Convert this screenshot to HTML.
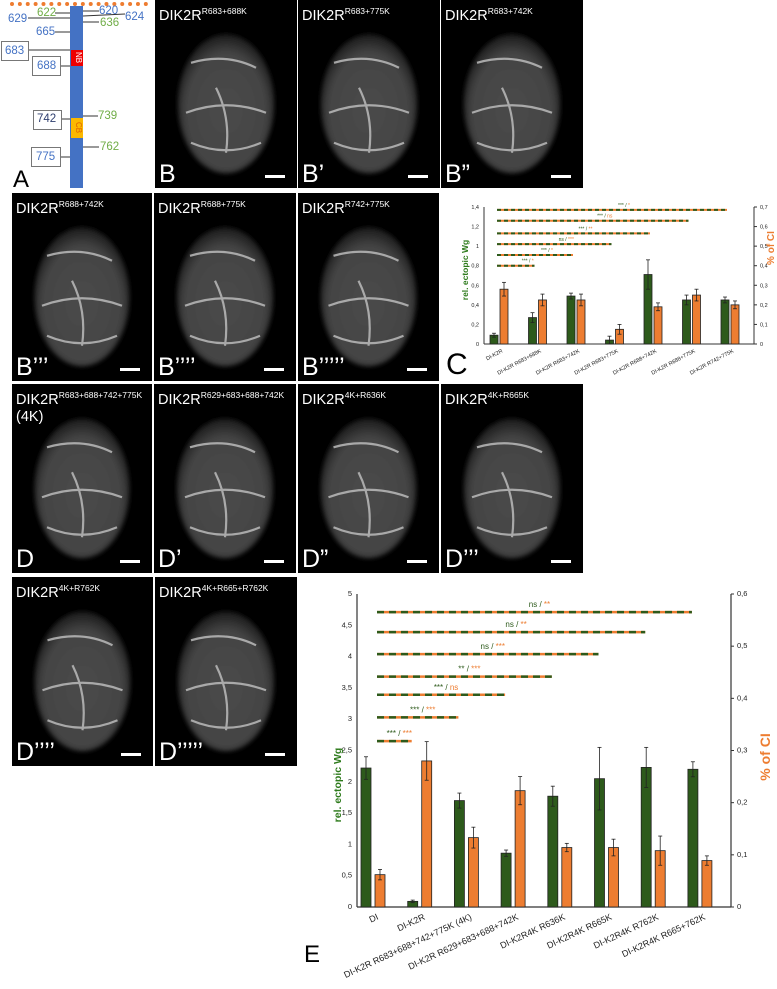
<!DOCTYPE html>
<html><head><meta charset="utf-8"><style>
body{margin:0;width:777px;height:989px;background:#fff;position:relative;overflow:hidden;font-family:"Liberation Sans",sans-serif}
.p{position:absolute;background:#000;overflow:hidden}
.p .t{position:absolute;left:4px;top:3px;color:#fff;font-size:14.5px;white-space:nowrap;line-height:17px}
.p .t sup{font-size:8.5px;vertical-align:6px}
.p .l{position:absolute;left:4px;bottom:0px;color:#fff;font-size:25px;line-height:28px}
.p .s{position:absolute;right:12px;bottom:10px;width:20px;height:3px;background:#fff}
.p svg{position:absolute;left:0;top:0}
.n{position:absolute;font-size:11.5px;line-height:12px}
.bx{position:absolute;border:1px solid #777;background:#fff}
</style></head><body>
<div style="position:absolute;left:0;top:0;width:152px;height:190px">
<div style="position:absolute;left:10px;top:2px;width:138px;border-top:4px dotted #ee7c30"></div>
<div style="position:absolute;left:70px;top:6px;width:13px;height:182px;background:#4472c4"></div>
<div style="position:absolute;left:71px;top:50px;width:12px;height:16px;background:#e00;color:#fff;font-size:8px;writing-mode:vertical-rl;text-align:center">NB</div>
<div style="position:absolute;left:71px;top:118px;width:12px;height:20px;background:#fbb800;color:#e06000;font-size:8px;writing-mode:vertical-rl;text-align:center">CB</div>
<svg width="152" height="190" style="position:absolute;left:0;top:0"><g stroke="#333" stroke-width="1">
<line x1="55" y1="13" x2="70" y2="13"/><line x1="28" y1="18" x2="70" y2="18"/><line x1="55" y1="32" x2="70" y2="32"/><line x1="28" y1="50" x2="70" y2="50"/><line x1="60" y1="66" x2="70" y2="66"/><line x1="61" y1="119" x2="70" y2="119"/><line x1="60" y1="157" x2="70" y2="157"/>
<line x1="83" y1="11" x2="99" y2="11"/><line x1="83" y1="16" x2="125" y2="14"/><line x1="83" y1="22" x2="99" y2="22"/><line x1="83" y1="116" x2="98" y2="116"/><line x1="83" y1="147" x2="99" y2="147"/></g></svg>
<div class="n" style="left:37px;top:7px;color:#70ad47">622</div>
<div class="n" style="left:99px;top:5px;color:#4472c4">620</div>
<div class="n" style="left:8px;top:13px;color:#4472c4">629</div>
<div class="n" style="left:125px;top:11px;color:#4472c4">624</div>
<div class="n" style="left:100px;top:17px;color:#70ad47">636</div>
<div class="n" style="left:36px;top:26px;color:#4472c4">665</div>
<div class="bx" style="left:1px;top:41px;width:26px;height:18px"></div><div class="n" style="left:5px;top:45px;color:#4472c4">683</div>
<div class="bx" style="left:32px;top:56px;width:27px;height:18px"></div><div class="n" style="left:37px;top:60px;color:#4472c4">688</div>
<div class="bx" style="left:33px;top:110px;width:27px;height:18px"></div><div class="n" style="left:37px;top:113px;color:#2f3f6f">742</div>
<div class="n" style="left:98px;top:110px;color:#70ad47">739</div>
<div class="bx" style="left:31px;top:147px;width:28px;height:18px"></div><div class="n" style="left:36px;top:151px;color:#4472c4">775</div>
<div class="n" style="left:100px;top:141px;color:#70ad47">762</div>
<div style="position:absolute;left:13px;top:166px;font-size:24px">A</div>
</div>
<div id="panels"></div>
<svg id="chartC" width="777" height="989" style="position:absolute;left:0;top:0;pointer-events:none"></svg>
<script>
const panelNames=['B','B’','B”','B’’’','B’’’’','B’’’’’','D','D’','D”','D’’’','D’’’’','D’’’’’'];
const panelTitles=[['DIK2R','R683+688K'],['DIK2R','R683+775K'],['DIK2R','R683+742K'],['DIK2R','R688+742K'],['DIK2R','R688+775K'],['DIK2R','R742+775K'],['DIK2R','R683+688+742+775K'],['DIK2R','R629+683+688+742K'],['DIK2R','4K+R636K'],['DIK2R','4K+R665K'],['DIK2R','4K+R762K'],['DIK2R','4K+R665+R762K']];
const boxes=[[155,0,142,188],[298,0,142,188],[441,0,142,188],[12,193,140,188],[154,193,142,188],[298,193,141,188],[12,384,140,189],[154,384,142,189],[298,384,141,189],[441,384,142,189],[12,577,141,189],[155,577,142,189]];
const cont=document.getElementById('panels');
boxes.forEach((b,i)=>{
 const d=document.createElement('div');d.className='p';
 
 
 d.style.cssText=`left:${b[0]}px;top:${b[1]}px;width:${b[2]}px;height:${b[3]}px`;
 const w=b[2],h=b[3];
 const cx=w*0.5,cy=h*0.52;
 d.innerHTML=`<svg width="${w}" height="${h}"><defs><radialGradient id="g${i}" cx="50%" cy="55%" r="55%"><stop offset="0" stop-color="#4a4a4a"/><stop offset="0.75" stop-color="#444"/><stop offset="1" stop-color="#1a1a1a"/></radialGradient><filter id="f${i}"><feGaussianBlur stdDeviation="2"/></filter></defs>
 <ellipse cx="${cx}" cy="${cy+6}" rx="${w*0.34}" ry="${h*0.37}" fill="url(#g${i})" filter="url(#f${i})"/>
 <g fill="none" stroke="#bbb" stroke-width="2.2" opacity="0.85"><path d="M${cx-40} ${cy+15} Q${cx} ${cy} ${cx+40} ${cy+15}"/><path d="M${cx-35} ${cy+45} Q${cx} ${cy+60} ${cx+35} ${cy+45}"/><path d="M${cx-10} ${cy-10} Q${cx+5} ${cy+20} ${cx} ${cy+55}"/><path d="M${cx-35} ${cy-35} Q${cx} ${cy-45} ${cx+30} ${cy-30}"/></g></svg>
 <div class="t">${panelTitles[i][0]}<sup>${panelTitles[i][1]}</sup>${i==6?'<br>(4K)':''}</div><div class="l">${panelNames[i]}</div><div class="s"></div>`;
 cont.appendChild(d);
});

/* Chart C data */
const cCats=['DI-K2R','DI-K2R R683+688K','DI-K2R R683+742K','DI-K2R R683+775K','DI-K2R R688+742K','DI-K2R R688+775K','DI-K2R R742+775K'];
const cGreen=[0.09,0.27,0.49,0.04,0.71,0.45,0.45];
const cGreenErr=[0.02,0.05,0.03,0.04,0.15,0.05,0.03];
const cOrange=[0.28,0.225,0.225,0.075,0.19,0.25,0.20];
const cOrangeErr=[0.035,0.03,0.03,0.025,0.02,0.03,0.02];
const cLeftTicks=[0,0.2,0.4,0.6,0.8,1,1.2,1.4];
const cRightTicks=[0,0.1,0.2,0.3,0.4,0.5,0.6,0.7];
const cSigY=[0.80,0.91,1.02,1.13,1.26,1.37];
const cSigEnd=[1,2,3,4,5,6];
const cSigG=['***','***','ns','***','***','***'];
const cSigO=['*','*','***','**','ns','*'];

/* Chart E data */
const eCats=['DI','DI-K2R','DI-K2R R683+688+742+775K (4K)','DI-K2R R629+683+688+742K','DI-K2R4K R636K','DI-K2R4K R665K','DI-K2R4K R762K','DI-K2R4K R665+762K'];
const eGreen=[2.22,0.09,1.70,0.86,1.77,2.05,2.23,2.20];
const eGreenErr=[0.18,0.02,0.12,0.05,0.16,0.50,0.32,0.12];
const eOrange=[0.062,0.28,0.133,0.223,0.114,0.114,0.108,0.089];
const eOrangeErr=[0.01,0.037,0.02,0.027,0.008,0.016,0.028,0.009];
const eLeftTicks=[0,0.5,1,1.5,2,2.5,3,3.5,4,4.5,5];
const eRightTicks=[0,0.1,0.2,0.3,0.4,0.5,0.6];
const eSigY=[2.65,3.03,3.39,3.68,4.04,4.39,4.71];
const eSigEnd=[1,2,3,4,5,6,7];
const eSigG=['***','***','***','**','ns','ns','ns'];
const eSigO=['***','***','ns','***','***','**','**'];

const NS='http://www.w3.org/2000/svg';
const svg=document.getElementById('chartC');
function mk(tag,attrs,parent){const e=document.createElementNS(NS,tag);for(const k in attrs)e.setAttribute(k,attrs[k]);(parent||svg).appendChild(e);return e;}

function drawChart(o){
 const g=mk('g',{});
 
 
 const yL=v=>o.y0-(v/o.lmax)*(o.y0-o.y1);
 const yR=v=>o.y0-(v/o.rmax)*(o.y0-o.y1);
 const xG=i=>o.gx0+i*o.gstep;
 const al=mk('line',{x1:o.xl,y1:o.y1,x2:o.xl,y2:o.y0,stroke:'#333','stroke-width':o.aw},g);
 
 const ar=mk('line',{x1:o.xr,y1:o.y1,x2:o.xr,y2:o.y0,stroke:'#333','stroke-width':o.aw},g);
 
 const ax=mk('line',{x1:o.xl,y1:o.y0,x2:o.xr,y2:o.y0,stroke:'#333','stroke-width':o.aw},g);
 
 o.lt.forEach(v=>{const t=mk('text',{x:o.xl-5,y:yL(v)+2,'font-size':o.fs,'text-anchor':'end',fill:'#222'},g);t.textContent=String(v).replace('.',',');
  });
 o.rt.forEach(v=>{mk('line',{x1:o.xr,y1:yR(v),x2:o.xr+3,y2:yR(v),stroke:'#333'},g);const t=mk('text',{x:o.xr+6,y:yR(v)+2,'font-size':o.fs,fill:'#222'},g);t.textContent=String(v).replace('.',',');
  });
 o.cats.forEach((c,i)=>{
  const x=xG(i);
  const gb=mk('rect',{x:x-o.bw-o.gap/2,y:yL(o.green[i]),width:o.bw,height:o.y0-yL(o.green[i]),fill:'#2d5a1b',stroke:'#222','stroke-width':0.8},g);
  
  const ob=mk('rect',{x:x+o.gap/2,y:yR(o.orange[i]),width:o.bw,height:o.y0-yR(o.orange[i]),fill:'#ed7d31',stroke:'#222','stroke-width':0.8},g);
  
  const gx=x-o.bw/2-o.gap/2,ox=x+o.bw/2+o.gap/2;
  [[gx,yL(o.green[i]-o.gErr[i]),yL(o.green[i]+o.gErr[i])],[ox,yR(o.orange[i]-o.oErr[i]),yR(o.orange[i]+o.oErr[i])]].forEach(e=>{
   mk('line',{x1:e[0],y1:e[1],x2:e[0],y2:e[2],stroke:'#222','stroke-width':0.8},g);
   mk('line',{x1:e[0]-2,y1:e[1],x2:e[0]+2,y2:e[1],stroke:'#222','stroke-width':0.8},g);
   mk('line',{x1:e[0]-2,y1:e[2],x2:e[0]+2,y2:e[2],stroke:'#222','stroke-width':0.8},g);});
  const t=mk('text',{x:x+o.lx,y:o.y0+o.ly,'font-size':o.cfs,'text-anchor':'end',fill:'#222',transform:`rotate(${o.rot} ${x+o.lx} ${o.y0+o.ly})`},g);t.textContent=c;
  
 });
 o.sigY.forEach((v,k)=>{
  const x2=xG(o.sigEnd[k])+o.sigOff;const y=yL(v);
  const l1=mk('line',{x1:o.sx,y1:y,x2:x2,y2:y,stroke:'#ed7d31','stroke-width':o.sw},g);
  
  mk('line',{x1:o.sx,y1:y,x2:x2,y2:y,stroke:'#2d5a1b','stroke-width':o.sw,'stroke-dasharray':o.dash},g);
  const tx=(o.sx+x2)/2+o.sigShift;
  const t=mk('text',{x:tx,y:y-o.sigDy,'font-size':o.sfs,'text-anchor':'middle'},g);
  
  const a=mk('tspan',{fill:'#2d5a1b'},t);a.textContent=o.sigG[k]+' / ';
  const b=mk('tspan',{fill:'#ed7d31'},t);b.textContent=o.sigO[k];
 });
 const yt=mk('text',{x:o.ytx,y:o.yty,'font-size':o.tfs,'font-weight':'bold',fill:'#2d7a1b','text-anchor':'middle',transform:`rotate(-90 ${o.ytx} ${o.yty})`},g);yt.textContent='rel. ectopic Wg';
 
 const rt=mk('text',{x:o.rtx,y:o.rty,'font-size':o.rfs,'font-weight':'bold',fill:'#ed7d31','text-anchor':'middle',transform:`rotate(-90 ${o.rtx} ${o.rty})`},g);rt.textContent='% of CI';
 
 const L=mk('text',{x:o.Lx,y:o.Ly,'font-size':o.Lfs,fill:'#000'},g);L.textContent=o.letter;
 
}
drawChart({name:'chart-c',cats:cCats,green:cGreen,gErr:cGreenErr,orange:cOrange,oErr:cOrangeErr,lt:cLeftTicks,rt:cRightTicks,lmax:1.4,rmax:0.7,
 y0:344,y1:207,xl:484,xr:754,gx0:499,gstep:38.5,bw:8,gap:2,aw:1,fs:5.5,cfs:5.5,lx:4,ly:8,rot:-28,
 sigY:cSigY,sigEnd:cSigEnd,sigG:cSigG,sigO:cSigO,sx:497,sigOff:-3,sigShift:12,sigDy:3,sw:2,dash:'4,3',sfs:5,
 ytx:468,yty:270,rtx:774,rty:248,tfs:8.5,rfs:10,Lx:446,Ly:374,Lfs:30,letter:'C'});
drawChart({name:'chart-e',cats:eCats,green:eGreen,gErr:eGreenErr,orange:eOrange,oErr:eOrangeErr,lt:eLeftTicks,rt:eRightTicks,lmax:5,rmax:0.6,
 y0:907,y1:594,xl:357,xr:731,gx0:373,gstep:46.7,bw:10,gap:4,aw:1.2,fs:7.5,cfs:9,lx:6,ly:12,rot:-25,
 sigY:eSigY,sigEnd:eSigEnd,sigG:eSigG,sigO:eSigO,sx:377,sigOff:-8,sigShift:5,sigDy:5,sw:2.5,dash:'7,5',sfs:8,
 ytx:341,yty:785,rtx:770,rty:757,tfs:10.5,rfs:14,Lx:304,Ly:962,Lfs:24,letter:'E'});
</script>
</body></html>
